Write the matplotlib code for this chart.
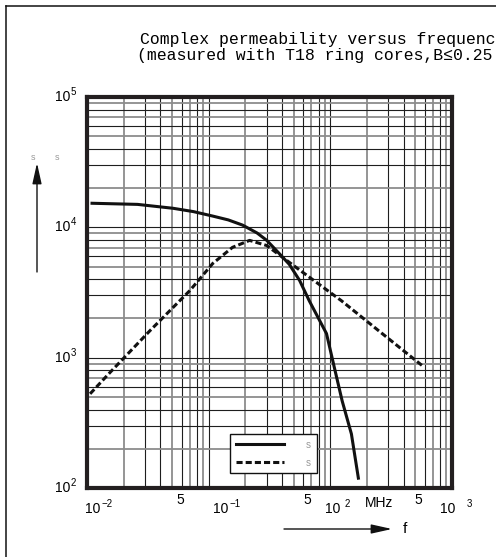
import matplotlib.pyplot as plt
import matplotlib.lines as mlines

plt.rcParams['font.family'] = ['Liberation Sans', 'DejaVu Sans']

# values
# mu_s' (solid line)
f_real = [0.011, 0.026, 0.051, 0.075, 0.108, 0.145, 0.19, 0.25, 0.30, 0.38, 0.46, 0.56, 0.67,
          0.93, 1.08, 1.25, 1.49, 1.70]
mu_real = [15300, 15000, 14000, 13200, 12200, 11400, 10400, 9050, 7950, 6300, 5200, 3900, 2740,
           1530, 837, 467, 260, 119]
# mu_s'' (dashed line)
f_imag = [0.0106, 0.0154, 0.0329, 0.070, 0.108, 0.157, 0.217, 0.30, 0.56, 1.23, 2.67, 5.68]
mu_imag = [528, 767, 1610, 3270, 5280, 7020, 7940, 7250, 4700, 2740, 1530, 870]

title_lines = ['Complex permeability versus frequenc',
               '(measured with T18 ring cores,B\u22640.25']
y_exps = ['5', '4', '3', '2']
y_vals = [1e5, 1e4, 1e3, 1e2]
x_exps = ['\u22122', '\u22121', '2', '3']
x_fives = ['5', '5', '5']
unit = 'MHz'
legend_labels = ['s', 's']

W, H = 496, 557
fig = plt.figure(figsize=(W / 100, H / 100), dpi=100)

def fx(px):
    return px / W

def fy(py):
    return 1 - py / H

# plot box in pixels
L, R, T, B = 87, 452, 97, 488
ax = fig.add_axes([fx(L), fy(B), fx(R - L), (B - T) / H])
ax.set_xscale('log')
ax.set_yscale('log')
ax.set_xlim(0.01, 10)
ax.set_ylim(100, 1e5)
ax.tick_params(which='both', length=0, labelbottom=False, labelleft=False)
for s in ax.spines.values():
    s.set_linewidth(3.0)
    s.set_color('#231f20')
    s.set_zorder(5)

# grid: decades black, minor lines mixed black / grey
dark = '#1e1e1e'
grey = '#8c8c8c'
minor_col = {2: grey, 3: dark, 4: dark, 5: grey, 6: dark, 7: grey, 8: dark, 9: grey}
for dec in [0.01, 0.1, 1]:
    ax.axvline(dec, color=dark, lw=0.8, zorder=1)
    for k, c in minor_col.items():
        ax.axvline(dec * k, color=c, lw=0.8 if c == dark else 1.3, zorder=1)
for dec in [100, 1000, 10000]:
    ax.axhline(dec, color=dark, lw=0.8, zorder=1)
    for k, c in minor_col.items():
        ax.axhline(dec * k, color=c, lw=0.8 if c == dark else 1.3, zorder=1)

l1, = ax.plot(f_real, mu_real, color='#111111', lw=2.2, zorder=3, solid_joinstyle='round')
l2, = ax.plot(f_imag, mu_imag, color='#111111', lw=2.2, zorder=3,
              linestyle=(0, (2.0, 1.0)))

leg = ax.legend([l1, l2], legend_labels, loc='upper left',
                bbox_to_anchor=(fx(230), fy(434)), bbox_transform=fig.transFigure,
                borderaxespad=0, fontsize=7, labelcolor='#999999',
                handlelength=5.0, handletextpad=2.2, labelspacing=0.8,
                borderpad=0.6, fancybox=False, framealpha=1,
                edgecolor='#111111')
leg.get_frame().set_linewidth(1.0)
leg.set_zorder(6)

# title
mono = ['Liberation Mono', 'DejaVu Sans Mono']
fig.text(fx(140), fy(44), title_lines[0], family=mono, fontsize=11.9, va='baseline')
fig.text(fx(137), fy(60), title_lines[1], family=mono, fontsize=11.9, va='baseline')

# y tick labels
for v, e in zip(y_vals, y_exps):
    ax.annotate('10', xy=(0, v), xycoords=ax.get_yaxis_transform(),
                xytext=(-17, 0), textcoords='offset pixels',
                ha='right', va='center', fontsize=10)
    ax.annotate(e, xy=(0, v), xycoords=ax.get_yaxis_transform(),
                xytext=(-16, 5), textcoords='offset pixels',
                ha='left', va='center', fontsize=7)

# x tick labels
base_x = [85, 213, 325, 440]
exp_x = [101, 230, 345, 467]
for bx, ex, e in zip(base_x, exp_x, x_exps):
    fig.text(fx(bx), fy(509), '10', fontsize=10, ha='left', va='center')
    fig.text(fx(ex), fy(504), e, fontsize=7, ha='left', va='center')
for px, t in zip([180, 307, 418], x_fives):
    fig.text(fx(px), fy(500), t, fontsize=10, ha='center', va='center')
fig.text(fx(365), fy(503), unit, fontsize=10, ha='left', va='center')

# axis arrows
arrow = dict(arrowstyle='-|>,head_length=0.9,head_width=0.2',
             mutation_scale=14, lw=1, color='#111111', shrinkA=0, shrinkB=0)
fig.add_artist(plt.Annotation('', xy=(37, H - 163), xytext=(37, H - 272),
                              xycoords='figure pixels', textcoords='figure pixels',
                              arrowprops=arrow))
fig.add_artist(plt.Annotation('', xy=(392, H - 529), xytext=(284, H - 529),
                              xycoords='figure pixels', textcoords='figure pixels',
                              arrowprops=arrow))
fig.text(fx(405), fy(529), 'f', fontsize=11, ha='center', va='center')
fig.text(fx(33), fy(157), 's', fontsize=6.5, color='#999999', ha='center', va='center')
fig.text(fx(57), fy(157), 's', fontsize=6.5, color='#999999', ha='center', va='center')

# outer frame
fig.add_artist(mlines.Line2D([fx(6), fx(6)], [0, fy(6)], transform=fig.transFigure,
                             color='#111111', lw=1.1))
fig.add_artist(mlines.Line2D([fx(6), 1], [fy(6), fy(6)], transform=fig.transFigure,
                             color='#111111', lw=1.1))

fig.savefig('out.png', dpi=100)
